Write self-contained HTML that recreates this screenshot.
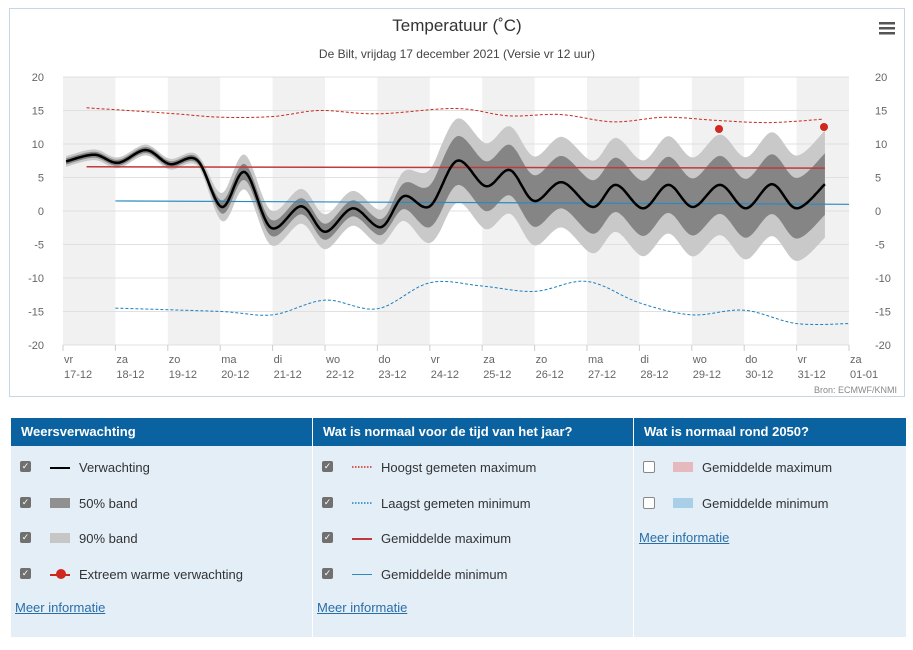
<!DOCTYPE html>
<html><head><meta charset="utf-8">
<style>
body{margin:0;width:913px;height:650px;background:#fff;font-family:"Liberation Sans",sans-serif;position:relative;overflow:hidden}
#chart{position:absolute;left:9px;top:8px;width:896px;height:389px;border:1px solid #c5d6e6;box-sizing:border-box}
.leg{position:absolute;top:418px;height:219px;background:#e4eef7}
.hd{background:#0b62a0;color:#fff;font-weight:bold;font-size:13px;height:28px;line-height:28px;padding-left:10px}
.row{position:relative;height:35.5px;font-size:13px;color:#333}
.cb{position:absolute;left:9px;top:11px;width:11px;height:11px;background:#707070;border-radius:2px;color:#fff;font-size:9px;line-height:11px;text-align:center}
.cb.off{background:#fff;border:1px solid #888;width:10px;height:10px}
.sym{position:absolute;left:39px;top:17px;width:20px}
.lab{position:absolute;left:68px;top:10px}
a{color:#2a6ea8;font-size:13px;position:absolute}
</style></head><body>
<div id="chart"></div>
<svg id="s" width="913" height="400" style="position:absolute;left:0;top:0"></svg>

<div class="leg" style="left:11px;width:301px">
<div class="hd">Weersverwachting</div>
<div class="row" style="margin-top:4px"><div class="cb">✓</div><div class="sym" style="border-top:2px solid #000"></div><div class="lab">Verwachting</div></div>
<div class="row"><div class="cb">✓</div><div class="sym" style="top:12px;height:10px;background:#909090"></div><div class="lab">50% band</div></div>
<div class="row"><div class="cb">✓</div><div class="sym" style="top:12px;height:10px;background:#c6c6c6"></div><div class="lab">90% band</div></div>
<div class="row"><div class="cb">✓</div><div class="sym" style="border-top:2px solid #c8281e"></div><div style="position:absolute;left:45px;top:12px;width:10px;height:10px;border-radius:50%;background:#d0281e"></div><div class="lab">Extreem warme verwachting</div></div>
<a style="left:4px;top:182px;text-decoration:underline">Meer informatie</a>
</div>
<div class="leg" style="left:313px;width:320px">
<div class="hd">Wat is normaal voor de tijd van het jaar?</div>
<div class="row" style="margin-top:4px"><div class="cb">✓</div><svg class="sym" style="top:16px" width="20" height="2"><line x1="0" x2="20" y1="1" y2="1" stroke="#d0281e" stroke-width="1.5" stroke-dasharray="1.5,1.5"/></svg><div class="lab">Hoogst gemeten maximum</div></div>
<div class="row"><div class="cb">✓</div><svg class="sym" style="top:16px" width="20" height="2"><line x1="0" x2="20" y1="1" y2="1" stroke="#1a7fc0" stroke-width="1.5" stroke-dasharray="1.5,1.5"/></svg><div class="lab">Laagst gemeten minimum</div></div>
<div class="row"><div class="cb">✓</div><div class="sym" style="border-top:2px solid #c0393b"></div><div class="lab">Gemiddelde maximum</div></div>
<div class="row"><div class="cb">✓</div><div class="sym" style="border-top:1px solid #2a8ac0"></div><div class="lab">Gemiddelde minimum</div></div>
<a style="left:4px;top:182px;text-decoration:underline">Meer informatie</a>
</div>
<div class="leg" style="left:634px;width:272px">
<div class="hd">Wat is normaal rond 2050?</div>
<div class="row" style="margin-top:4px"><div class="cb off"></div><div class="sym" style="top:12px;height:10px;background:#e6b9be"></div><div class="lab">Gemiddelde maximum</div></div>
<div class="row"><div class="cb off"></div><div class="sym" style="top:12px;height:10px;background:#a9cfe8"></div><div class="lab">Gemiddelde minimum</div></div>
<a style="left:5px;top:112px;text-decoration:underline">Meer informatie</a>
</div>

<script>
var X0=63,DW=52.4;
function px(d){return X0+d*DW}
function py(v){return 211-v*6.7}
function spline(pts,step){
  var out=[];
  for(var i=0;i<pts.length-1;i++){
    var p0=pts[Math.max(0,i-1)],p1=pts[i],p2=pts[i+1],p3=pts[Math.min(pts.length-1,i+2)];
    for(var t=0;t<1;t+=step){
      var t2=t*t,t3=t2*t;
      var f=function(a,b,c,d){return 0.5*((2*b)+(-a+c)*t+(2*a-5*b+4*c-d)*t2+(-a+3*b-3*c+d)*t3)};
      out.push([f(p0[0],p1[0],p2[0],p3[0]),f(p0[1],p1[1],p2[1],p3[1])]);
    }
  }
  out.push(pts[pts.length-1]);return out;
}
function path(a){return a.map(function(p,i){return(i?'L':'M')+px(p[0]).toFixed(1)+','+py(p[1]).toFixed(1)}).join('')}
var s='';
for(var i=0;i<15;i+=2)s+='<rect x="'+px(i)+'" y="77" width="'+DW+'" height="268" fill="#f1f1f1"/>';
for(var v=-20;v<=20;v+=5){s+='<line x1="63" x2="849" y1="'+py(v)+'" y2="'+py(v)+'" stroke="#e0e0e0"/>';
 s+='<text x="44" y="'+(py(v)+4)+'" text-anchor="end" font-size="11" fill="#666">'+v+'</text>';
 s+='<text x="875" y="'+(py(v)+4)+'" font-size="11" fill="#666">'+v+'</text>';}
var days=['vr','za','zo','ma','di','wo','do','vr','za','zo','ma','di','wo','do','vr','za'];
var dates=['17-12','18-12','19-12','20-12','21-12','22-12','23-12','24-12','25-12','26-12','27-12','28-12','29-12','30-12','31-12','01-01'];
for(var i=0;i<16;i++){var x=px(i);s+='<line x1="'+x+'" x2="'+x+'" y1="345" y2="351" stroke="#ccc"/>';
 s+='<text x="'+(x+1)+'" y="363" font-size="11" fill="#666">'+days[i]+'</text><text x="'+(x+1)+'" y="378" font-size="11" fill="#666">'+dates[i]+'</text>';}
var m=[[0.06,7.4],[0.6,8.4],[1.05,7.2],[1.58,9.1],[2.04,7.0],[2.56,7.6],[3.03,0.6],[3.47,5.8],[3.97,-2.5],[4.55,0.7],[5.0,-3.1],[5.53,0.4],[6.07,-2.4],[6.5,2.2],[7.0,0.7],[7.52,7.5],[8.07,3.7],[8.53,6.1],[8.99,1.5],[9.52,4.3],[10.11,0.6],[10.55,3.9],[11.07,0.4],[11.55,3.9],[12.02,0.6],[12.54,3.9],[13.03,0.4],[13.53,4.0],[14.0,0.4],[14.54,4.0]];
var mc=spline(m,0.05);
function w(d,a){
  if(d<2.6)return a[0]; if(d<3.2)return a[0]+(a[1]-a[0])*(d-2.6)/0.6;
  if(d<6.2)return a[1]; if(d<7.2)return a[1]+(a[2]-a[1])*(d-6.2);
  return a[2]+(a[3]-a[2])*(d-7.2)/7.34;}
function band(a,dy){var up=mc.map(function(p){return[p[0],p[1]+w(p[0],a)+dy]}),lo=mc.map(function(p){return[p[0],p[1]-w(p[0],a)+dy]}).reverse();
 return path(up)+path(lo).replace('M','L')+'Z';}
s+='<path d="'+band([0.8,2.6,6.2,8.0],0)+'" fill="#c9c9c9"/>';
s+='<path d="'+band([0.45,1.2,3.6,4.6],0)+'" fill="#858585"/>';
var rmx=[[0.45,15.4],[2,14.6],[3,14],[4,14.1],[4.9,15],[6,14.5],[7.5,15.3],[8.5,14.2],[9.5,14.4],[10.5,13.3],[11.5,14],[12.5,13.5],[13.5,13.2],[14.5,13.7]];
s+='<path d="'+path(spline(rmx,0.1))+'" fill="none" stroke="#c8281e" stroke-width="1" stroke-dasharray="3,2"/>';
var bmn=[[1,-14.5],[3,-15],[4,-15.5],[5,-13.3],[6,-14.6],[7,-10.7],[8,-11.2],[9,-12],[10,-10.5],[11,-13.7],[12,-15.5],[13,-14.8],[14,-16.8],[15,-16.8]];
s+='<path d="'+path(spline(bmn,0.1))+'" fill="none" stroke="#1a7fc0" stroke-width="1" stroke-dasharray="3,2"/>';
s+='<line x1="'+px(0.45)+'" x2="'+px(14.54)+'" y1="'+py(6.6)+'" y2="'+py(6.4)+'" stroke="#c0393b" stroke-width="1.5"/>';
s+='<line x1="'+px(1)+'" x2="'+px(15)+'" y1="'+py(1.5)+'" y2="'+py(1.0)+'" stroke="#2a8ac0" stroke-width="1.2"/>';
s+='<path d="'+path(mc)+'" fill="none" stroke="#000" stroke-width="2.5"/>';
s+='<circle cx="719" cy="129" r="4" fill="#d0281e"/><circle cx="824" cy="127" r="4" fill="#d0281e"/>';
s+='<text x="457" y="31" text-anchor="middle" font-size="17" fill="#333">Temperatuur (˚C)</text>';
s+='<text x="457" y="58" text-anchor="middle" font-size="12" fill="#444">De Bilt, vrijdag 17 december 2021 (Versie vr 12 uur)</text>';
s+='<rect x="879" y="22" width="16" height="2.5" fill="#555"/><rect x="879" y="27" width="16" height="2.5" fill="#555"/><rect x="879" y="32" width="16" height="2.5" fill="#555"/>';
s+='<text x="897" y="393" text-anchor="end" font-size="9" fill="#888">Bron: ECMWF/KNMI</text>';
document.getElementById('s').innerHTML=s;
</script>
</body></html>
